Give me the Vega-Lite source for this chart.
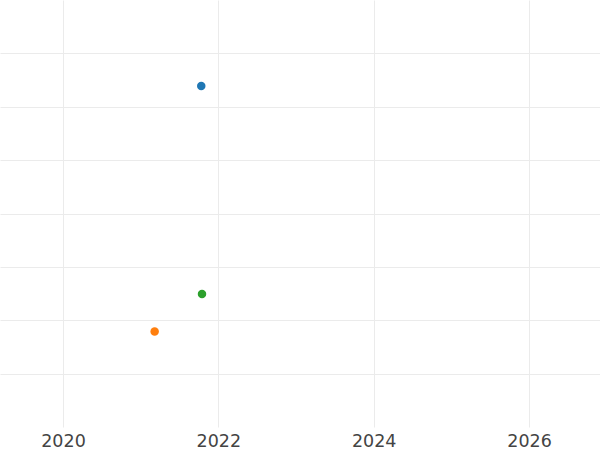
{
  "$schema": "https://vega.github.io/schema/vega-lite/v6.json",
  "width": 600,
  "height": 427,
  "autosize": "none",
  "padding": {"left": 0, "right": 0, "top": 0, "bottom": 23},
  "background": "white",
  "config": {"view": {"stroke": null}},
  "data": {
    "values": [
      {"series": "A", "year": 2021.78, "value": 6.39},
      {"series": "B", "year": 2021.18, "value": 1.79},
      {"series": "C", "year": 2021.79, "value": 2.49}
    ]
  },
  "mark": {"type": "point", "filled": true, "opacity": 1, "size": 72},
  "encoding": {
    "x": {
      "field": "year",
      "type": "quantitative",
      "scale": {"domain": [2019.189, 2026.914], "nice": false, "zero": false},
      "axis": {
        "title": null,
        "values": [2020, 2022, 2024, 2026],
        "format": "d",
        "domain": false,
        "ticks": false,
        "labelFont": "DejaVu Sans",
        "labelFontSize": 17.5,
        "labelColor": "#444444",
        "labelPadding": 5,
        "gridColor": "#ebebeb",
        "gridWidth": 1
      }
    },
    "y": {
      "field": "value",
      "type": "quantitative",
      "scale": {"domain": [0, 8], "nice": false, "zero": false},
      "axis": {
        "title": null,
        "values": [1, 2, 3, 4, 5, 6, 7],
        "labels": false,
        "domain": false,
        "ticks": false,
        "gridColor": "#ebebeb",
        "gridWidth": 1
      }
    },
    "color": {
      "field": "series",
      "type": "nominal",
      "scale": {"domain": ["A", "B", "C"], "range": ["#1f77b4", "#ff7f0e", "#2ca02c"]},
      "legend": null
    }
  }
}
